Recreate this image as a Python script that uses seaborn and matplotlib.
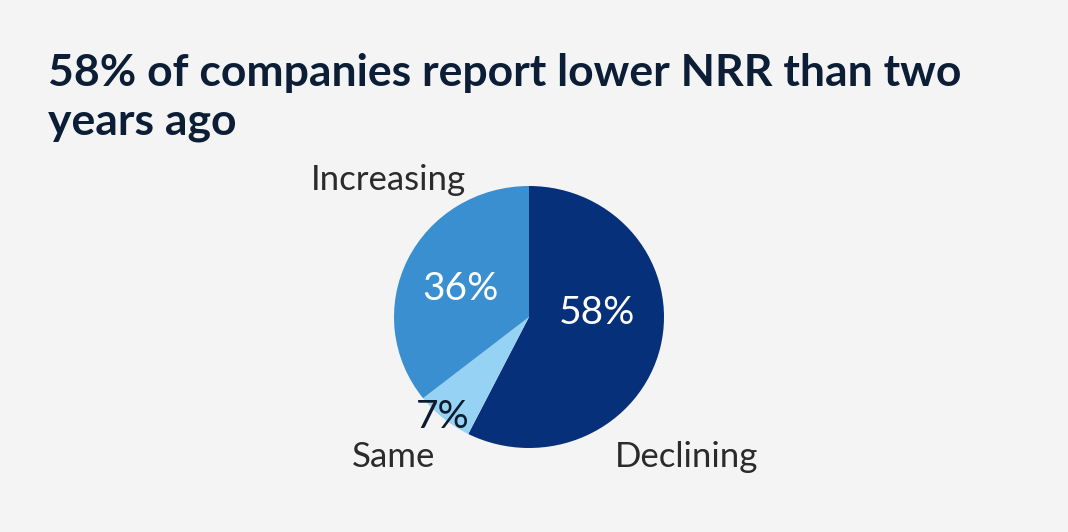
import matplotlib
matplotlib.use("Agg")
import matplotlib.pyplot as plt
import seaborn as sns

# data
categories = ["Declining", "Same", "Increasing"]
shares = [58, 7, 36]
pct_labels = ["58%", "7%", "36%"]
title_lines = ["58% of companies report lower NRR than two", "years ago"]

colors = ["#06307a", "#95d2f3", "#3a8fd0"]
bg = "#f4f4f4"

sns.set_theme(style="white")
plt.rcParams["font.family"] = ["Lato", "DejaVu Sans"]

W, H = 1068, 532
fig = plt.figure(figsize=(W / 100, H / 100), dpi=100, facecolor=bg)

# pie axes: center (529, 317), rx 135, ry 131 in pixels
cx, cy, rx, ry = 529, 317, 135, 131
ax = fig.add_axes([(cx - rx) / W, (H - cy - ry) / H, 2 * rx / W, 2 * ry / H])
ax.set_facecolor(bg)

wedges, _, autotexts = ax.pie(
    shares, colors=colors, startangle=90, counterclock=False,
    autopct="%d%%", wedgeprops=dict(linewidth=0),
    textprops=dict(fontsize=28),
)
ax.set_aspect("auto")
ax.set_xlim(-1, 1)
ax.set_ylim(-1, 1)
ax.axis("off")

pct_pos = [(0.50, 0.03), (-0.64, -0.76), (-0.51, 0.21)]
pct_colors = ["white", "#0d1b2e", "white"]
for t, lab, pos, c in zip(autotexts, pct_labels, pct_pos, pct_colors):
    t.set_text(lab)
    t.set_position(pos)
    t.set_color(c)
    t.set_ha("center")
    t.set_va("center")

# category labels
cat_pos = {"Increasing": (311, 190), "Same": (352, 467), "Declining": (615, 467)}
for name in categories:
    x, y = cat_pos[name]
    fig.text(x / W, 1 - y / H, name, ha="left", va="baseline", fontsize=25,
             fontweight="normal", color="#2b2b2b")

for line, y in zip(title_lines, [86, 135]):
    fig.text(48 / W, 1 - y / H, line, ha="left", va="baseline", fontsize=32,
             fontweight="bold", color="#0c1e35")

fig.savefig("out.png", dpi=100, facecolor=bg)
